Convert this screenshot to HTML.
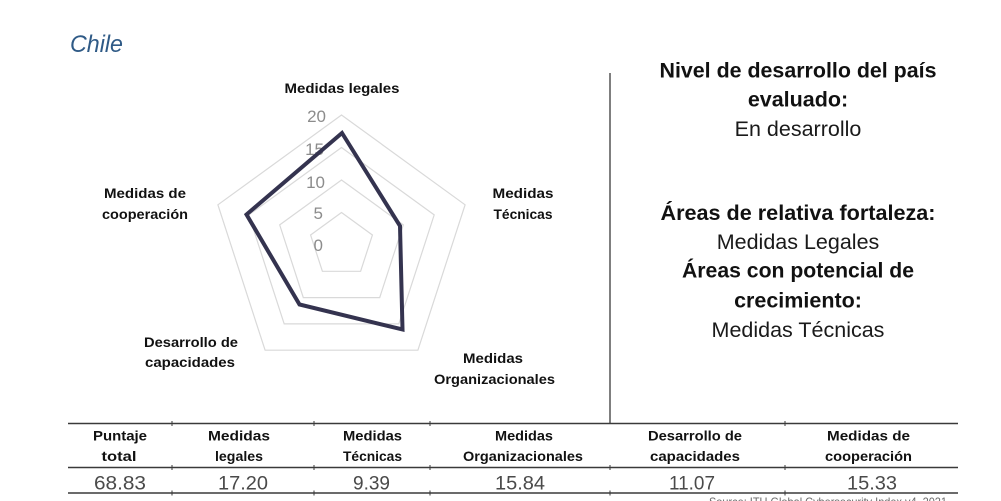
<!DOCTYPE html>
<html>
<head>
<meta charset="utf-8">
<style>
  html,body{margin:0;padding:0;background:#fff;}
  body{width:1001px;height:501px;overflow:hidden;}
  svg{display:block;}
  text{font-family:"Liberation Sans",Arial,sans-serif;}
</style>
</head>
<body>
<svg width="1001" height="501" viewBox="0 0 1001 501" xmlns="http://www.w3.org/2000/svg">
  <rect width="1001" height="501" fill="#ffffff"/>

  <!-- Title -->
  <text x="70" y="52" font-size="24" font-style="italic" fill="#2f5a86" textLength="53" lengthAdjust="spacingAndGlyphs">Chile</text>

  <!-- Radar grid -->
  <g fill="none" stroke="#d9d9d9" stroke-width="1.2">
    <polygon points="341.5,115 465.1,204.8 417.9,350.2 265.1,350.2 217.9,204.8"/>
    <polygon points="341.5,147.5 434.2,214.9 398.8,323.9 284.2,323.9 248.8,214.9"/>
    <polygon points="341.5,180 403.3,224.9 379.7,297.6 303.3,297.6 279.7,224.9"/>
    <polygon points="341.5,212.5 372.4,235 360.6,271.3 322.4,271.3 310.6,235"/>
  </g>

  <!-- axis numbers -->
  <g font-size="17" fill="#8c8c8c" text-anchor="end">
    <text x="326" y="122">20</text>
    <text x="324" y="155">15</text>
    <text x="325" y="188">10</text>
    <text x="323" y="219">5</text>
    <text x="323" y="251">0</text>
  </g>

  <!-- data polygon -->
  <polygon points="342,133 400,226 402.5,329.5 299.5,304.5 246.5,214.5" fill="none" stroke="#34334f" stroke-width="4" stroke-linejoin="miter"/>

  <!-- radar labels -->
  <g font-size="14" font-weight="bold" fill="#111" text-anchor="middle">
    <text x="342" y="93" textLength="115" lengthAdjust="spacingAndGlyphs">Medidas legales</text>
    <text x="523" y="198" textLength="61" lengthAdjust="spacingAndGlyphs">Medidas</text>
    <text x="523" y="219" textLength="59" lengthAdjust="spacingAndGlyphs">Técnicas</text>
    <text x="145" y="198" textLength="82" lengthAdjust="spacingAndGlyphs">Medidas de</text>
    <text x="145" y="219" textLength="86" lengthAdjust="spacingAndGlyphs">cooperación</text>
    <text x="191" y="347" textLength="94" lengthAdjust="spacingAndGlyphs">Desarrollo de</text>
    <text x="190" y="367" textLength="90" lengthAdjust="spacingAndGlyphs">capacidades</text>
    <text x="493" y="363" textLength="60" lengthAdjust="spacingAndGlyphs">Medidas</text>
    <text x="494.5" y="384" textLength="121" lengthAdjust="spacingAndGlyphs">Organizacionales</text>
  </g>

  <!-- vertical divider -->
  <line x1="610" y1="73" x2="610" y2="423.5" stroke="#7f7f7f" stroke-width="2"/>

  <!-- right panel -->
  <g font-size="21.5" fill="#111" text-anchor="middle">
    <text x="798" y="77.5" font-weight="bold" textLength="277" lengthAdjust="spacingAndGlyphs">Nivel de desarrollo del país</text>
    <text x="798" y="106.5" font-weight="bold">evaluado:</text>
    <text x="798" y="136" fill="#1a1a1a">En desarrollo</text>
    <text x="798" y="220" font-weight="bold" textLength="275" lengthAdjust="spacingAndGlyphs">Áreas de relativa fortaleza:</text>
    <text x="798" y="249" fill="#1a1a1a">Medidas Legales</text>
    <text x="798" y="277.5" font-weight="bold" textLength="232" lengthAdjust="spacingAndGlyphs">Áreas con potencial de</text>
    <text x="798" y="307.5" font-weight="bold">crecimiento:</text>
    <text x="798" y="337" fill="#1a1a1a">Medidas Técnicas</text>
  </g>

  <!-- table lines -->
  <g stroke="#3a3a3a" stroke-width="1.5">
    <line x1="68" y1="423.5" x2="958" y2="423.5"/>
    <line x1="68" y1="467.5" x2="958" y2="467.5"/>
    <line x1="68" y1="493" x2="958" y2="493"/>
  </g>
  <g stroke="#3a3a3a" stroke-width="1">
    <line x1="172" y1="421" x2="172" y2="426"/>
    <line x1="314" y1="421" x2="314" y2="426"/>
    <line x1="430" y1="421" x2="430" y2="426"/>
    <line x1="785" y1="421" x2="785" y2="426"/>
    <line x1="172" y1="465" x2="172" y2="470"/>
    <line x1="314" y1="465" x2="314" y2="470"/>
    <line x1="430" y1="465" x2="430" y2="470"/>
    <line x1="610" y1="465" x2="610" y2="470"/>
    <line x1="785" y1="465" x2="785" y2="470"/>
    <line x1="172" y1="490.5" x2="172" y2="495.5"/>
    <line x1="314" y1="490.5" x2="314" y2="495.5"/>
    <line x1="430" y1="490.5" x2="430" y2="495.5"/>
    <line x1="610" y1="490.5" x2="610" y2="495.5"/>
    <line x1="785" y1="490.5" x2="785" y2="495.5"/>
  </g>

  <!-- table header -->
  <g font-size="14" font-weight="bold" fill="#111" text-anchor="middle">
    <text x="120" y="440.5" textLength="54" lengthAdjust="spacingAndGlyphs">Puntaje</text>
    <text x="119" y="461" textLength="35" lengthAdjust="spacingAndGlyphs">total</text>
    <text x="239" y="440.5" textLength="62" lengthAdjust="spacingAndGlyphs">Medidas</text>
    <text x="239" y="461" textLength="48" lengthAdjust="spacingAndGlyphs">legales</text>
    <text x="372.5" y="440.5" textLength="59" lengthAdjust="spacingAndGlyphs">Medidas</text>
    <text x="372.5" y="461" textLength="59" lengthAdjust="spacingAndGlyphs">Técnicas</text>
    <text x="524" y="440.5" textLength="58" lengthAdjust="spacingAndGlyphs">Medidas</text>
    <text x="523" y="461" textLength="120" lengthAdjust="spacingAndGlyphs">Organizacionales</text>
    <text x="695" y="440.5" textLength="94" lengthAdjust="spacingAndGlyphs">Desarrollo de</text>
    <text x="695" y="461" textLength="90" lengthAdjust="spacingAndGlyphs">capacidades</text>
    <text x="868.5" y="440.5" textLength="83" lengthAdjust="spacingAndGlyphs">Medidas de</text>
    <text x="868.5" y="461" textLength="87" lengthAdjust="spacingAndGlyphs">cooperación</text>
  </g>

  <!-- table values -->
  <g font-size="19.5" fill="#4a4a4a" text-anchor="middle">
    <text x="120" y="489.5" textLength="52" lengthAdjust="spacingAndGlyphs">68.83</text>
    <text x="243" y="489.5" textLength="50" lengthAdjust="spacingAndGlyphs">17.20</text>
    <text x="371.5" y="489.5" textLength="37" lengthAdjust="spacingAndGlyphs">9.39</text>
    <text x="520" y="489.5" textLength="50" lengthAdjust="spacingAndGlyphs">15.84</text>
    <text x="692" y="489.5" textLength="46" lengthAdjust="spacingAndGlyphs">11.07</text>
    <text x="872" y="489.5" textLength="50" lengthAdjust="spacingAndGlyphs">15.33</text>
  </g>

  <!-- source -->
  <text x="709" y="506" font-size="12" fill="#6a6a6a" textLength="238" lengthAdjust="spacingAndGlyphs">Source: ITU Global Cybersecurity Index v4, 2021</text>
</svg>
</body>
</html>
